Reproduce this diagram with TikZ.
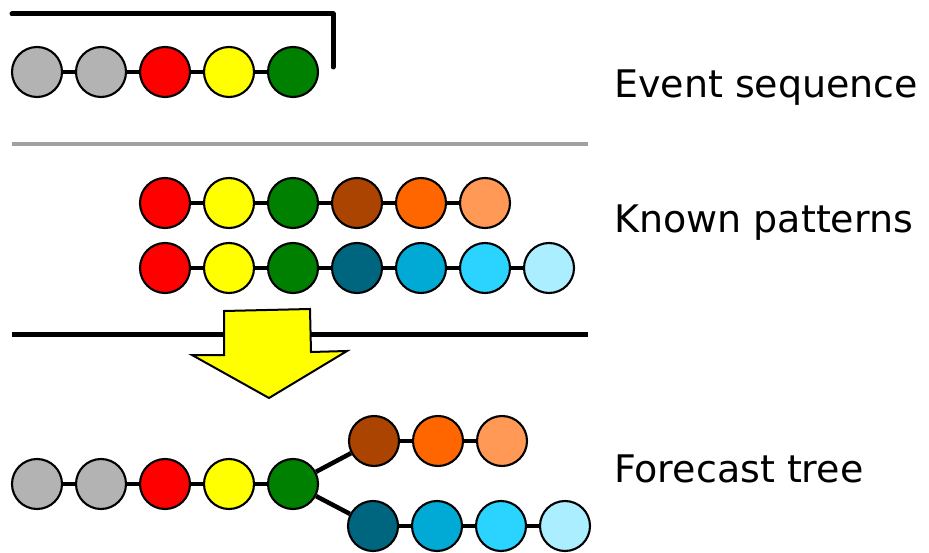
\documentclass[tikz,border=0pt]{standalone}
\usepackage{fontspec}
\setmainfont{DejaVu Sans}
\definecolor{cgray}{HTML}{B3B3B3}
\definecolor{cred}{HTML}{FF0000}
\definecolor{cyel}{HTML}{FFFF00}
\definecolor{cgreen}{HTML}{008000}
\definecolor{cbrown}{HTML}{AA4400}
\definecolor{corange}{HTML}{FF6600}
\definecolor{clorange}{HTML}{FF9955}
\definecolor{cteal}{HTML}{006680}
\definecolor{cblue}{HTML}{00AAD4}
\definecolor{ccyan}{HTML}{2AD4FF}
\definecolor{clcyan}{HTML}{AAEEFF}
\definecolor{csep}{HTML}{A0A0A0}
\tikzset{
  ev/.style={circle, draw=black, line width=2.1pt, minimum size=50pt, inner sep=0pt, fill=#1},
  link/.style={line width=4.5pt},
  rule/.style={line width=5pt},
  lbl/.style={anchor=base west, inner sep=0pt, font=\fontsize{38}{44}\selectfont}
}
\begin{document}
\begin{tikzpicture}[x=1pt,y=-1pt]
\useasboundingbox (0,0) rectangle (929,553);
% event sequence
\node[ev=cgray] (s1) at (37,72) {};
\node[ev=cgray] (s2) at (101,72) {};
\node[ev=cred] (s3) at (165,72) {};
\node[ev=cyel] (s4) at (229,72) {};
\node[ev=cgreen] (s5) at (293,72) {};
\foreach \a/\b in {s1/s2,s2/s3,s3/s4,s4/s5} \draw[link] (\a) -- (\b);
\coordinate (b1) at (12,14);
\coordinate (b2) at (333,14);
\coordinate (b3) at (333,67);
\draw[rule, line cap=round, line join=round] (b1) -- (b2) -- (b3);
\node[lbl] (t1) at (614,98) {Event sequence};
% separator
\coordinate (g1) at (12,144);
\coordinate (g2) at (588,144);
\draw[line width=4.5pt, csep] (g1) -- (g2);
% known patterns
\node[ev=cred] (p1) at (165,203) {};
\node[ev=cyel] (p2) at (229,203) {};
\node[ev=cgreen] (p3) at (293,203) {};
\node[ev=cbrown] (p4) at (357,203) {};
\node[ev=corange] (p5) at (421,203) {};
\node[ev=clorange] (p6) at (485,203) {};
\foreach \a/\b in {p1/p2,p2/p3,p3/p4,p4/p5,p5/p6} \draw[link] (\a) -- (\b);
\node[ev=cred] (q1) at (165,268) {};
\node[ev=cyel] (q2) at (229,268) {};
\node[ev=cgreen] (q3) at (293,268) {};
\node[ev=cteal] (q4) at (357,268) {};
\node[ev=cblue] (q5) at (421,268) {};
\node[ev=ccyan] (q6) at (485,268) {};
\node[ev=clcyan] (q7) at (549,268) {};
\foreach \a/\b in {q1/q2,q2/q3,q3/q4,q4/q5,q5/q6,q6/q7} \draw[link] (\a) -- (\b);
\node[lbl] (t2) at (614,233) {Known patterns};
% divider and arrow
\coordinate (d1) at (12,334.5);
\coordinate (d2) at (588,334.5);
\draw[rule] (d1) -- (d2);
\draw[fill=cyel, line width=2pt, line join=miter]
  (224,311) -- (310,309) -- (311,352) -- (347,351) -- (269,398) -- (192,355) -- (224,355) -- cycle;
% forecast tree
\node[ev=cgray] (f1) at (37,484) {};
\node[ev=cgray] (f2) at (101,484) {};
\node[ev=cred] (f3) at (165,484) {};
\node[ev=cyel] (f4) at (229,484) {};
\node[ev=cgreen] (f5) at (293,484) {};
\foreach \a/\b in {f1/f2,f2/f3,f3/f4,f4/f5} \draw[link] (\a) -- (\b);
\node[ev=cbrown] (u1) at (374,441) {};
\node[ev=corange] (u2) at (438,441) {};
\node[ev=clorange] (u3) at (502,441) {};
\foreach \a/\b in {f5/u1,u1/u2,u2/u3} \draw[link] (\a) -- (\b);
\node[ev=cteal] (v1) at (373,526) {};
\node[ev=cblue] (v2) at (437,526) {};
\node[ev=ccyan] (v3) at (501,526) {};
\node[ev=clcyan] (v4) at (565,526) {};
\foreach \a/\b in {f5/v1,v1/v2,v2/v3,v3/v4} \draw[link] (\a) -- (\b);
\node[lbl] (t3) at (614,482) {Forecast tree};
\end{tikzpicture}
\end{document}
